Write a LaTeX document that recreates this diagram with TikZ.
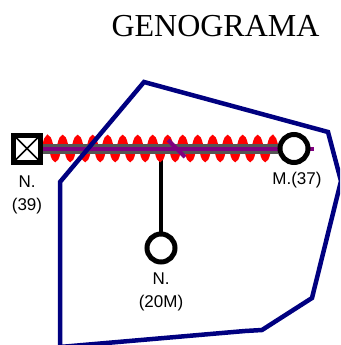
\documentclass[tikz,border=0pt]{standalone}
\usepackage{fontspec}
\setmainfont{Liberation Serif}
\setsansfont{Liberation Sans}
\usetikzlibrary{positioning,decorations.pathmorphing,backgrounds}
\definecolor{borderblue}{RGB}{0,0,128}
\definecolor{bondgray}{RGB}{85,85,85}
\definecolor{bondpurple}{RGB}{128,0,128}

\begin{document}
\begin{tikzpicture}[x=1pt,y=-1pt,
    male/.style={rectangle,draw,line width=5pt,fill=white,minimum size=27pt,inner sep=0pt,
      path picture={\draw[line width=1.5pt]
        (path picture bounding box.north west) -- (path picture bounding box.south east)
        (path picture bounding box.north east) -- (path picture bounding box.south west);}},
    female/.style={circle,draw,line width=5pt,fill=white,minimum size=28pt,inner sep=0pt},
    lbl/.style={font=\sffamily\fontsize{17}{23}\selectfont,align=center,inner sep=0pt},
    wave/.style={red,line width=5pt,decorate,decoration={snake,segment length=15pt,amplitude=10.5pt}},
    bond/.style={bondgray,line width=10pt},
    bondline/.style={bondpurple,line width=4pt},
    descent/.style={line width=4pt}]
    \useasboundingbox (0,0) rectangle (340,345);

    \node[font=\fontsize{32}{38}\selectfont,anchor=base] (title) at (215.5,37) {GENOGRAMA};

    \node[male] (n39) at (27,148.5) {};
    \node[female] (m37) at (294,148.5) {};
    \node[female] (n20) at (161,248) {};

    \node[lbl,below=11pt of n39] (n39lbl) {N.\\(39)};
    \node[lbl,below=7pt of m37,xshift=3pt] (m37lbl) {M.(37)};
    \node[lbl,below=8pt of n20] (n20lbl) {N.\\(20M)};

    \begin{scope}[on background layer]
        \draw[descent] (n20.north) -- (n20 |- n39);
        \draw[wave] (n39.east) -- (m37.west);
        \draw[bond] (n39.east) -- (m37.west);
        \draw[bondline,shorten >=-3pt] (n39.east) -- (m37.east);
    \end{scope}

    % separation mark
    \draw[bondline] (168,140) -- (185,157);

    % household border
    \begin{scope}
        \clip (0,0) rectangle (340,345);
        \draw[borderblue,line width=4.5pt,line join=miter]
        (60,347) -- (60,182) -- (144,82) -- (328,132) -- (341,181)
        -- (312,298) -- (262,330) -- (245,331) -- cycle;
    \end{scope}
\end{tikzpicture}
\end{document}
